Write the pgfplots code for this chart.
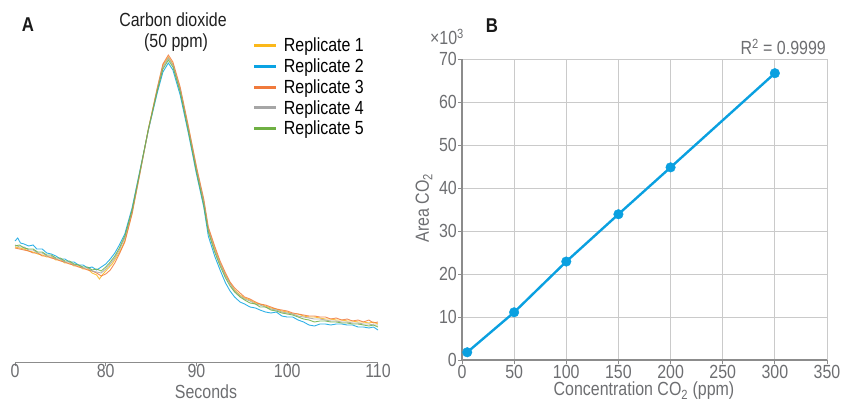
\documentclass[border=0pt]{standalone}
\usepackage{pgfplots}
\pgfplotsset{compat=1.18}
\usepackage{fontspec}
\setmainfont{Liberation Sans}[FakeStretch=0.84]

\definecolor{rone}{HTML}{FBB81A}
\definecolor{rtwo}{HTML}{0AA3E3}
\definecolor{rthree}{HTML}{F07A3C}
\definecolor{rfour}{HTML}{A6A6A6}
\definecolor{rfive}{HTML}{6FB043}
\definecolor{ticktext}{HTML}{6D6E71}
\definecolor{axisgray}{HTML}{8C8C8C}
\definecolor{gridgray}{HTML}{CACACA}
\definecolor{calblue}{HTML}{0AA0E0}

\newcommand{\chfont}{\fontsize{19}{21}\selectfont}

\begin{document}
\begin{tikzpicture}
% A: chromatogram
\begin{axis}[
    at={(15pt,-362pt)}, anchor=south west,
    scale only axis, width=363pt, height=310pt,
    xmin=70, xmax=110, ymin=0, ymax=310,
    axis x line=bottom, axis y line=none,
    axis line style={axisgray, line width=1pt, -},
    xtick={70,80,90,100,110},
    xticklabels={0,80,90,100,110},
    tick align=outside, major tick length=4pt,
    tick style={axisgray, line width=1pt},
    ticklabel style={font=\chfont, text=ticktext, inner sep=0pt},
    xticklabel style={yshift=1.5pt},
    clip=false,
    legend style={at={(0.655,1.05)}, anchor=north west, draw=none, fill=none,
        font=\chfont, row sep=3.6pt, inner sep=0pt,
        nodes={inner sep=1pt}},
    legend cell align=left,
    legend image code/.code={\draw[#1, line width=3pt, opacity=1] (0pt,0pt) -- (22pt,0pt);},
    every axis plot/.append style={line width=0.9pt, opacity=0.85},
]
\addplot[rone] coordinates {
(70.0,115) (70.5,114) (71.0,113) (71.5,111) (72.0,110) (72.5,108) (73.0,107) (73.5,105) (74.0,105) (74.5,102)
(75.0,102) (75.5,99) (76.0,99) (76.5,96) (77.0,96) (77.5,93) (78.0,93) (78.5,89) (79.0,87) (79.3,83)
(79.7,88) (80.2,93) (80.7,98) (81.2,105) (81.7,113) (82.1,121) (82.9,149) (83.8,191) (84.7,233) (85.7,274)
(86.3,297) (86.9,305) (87.4,298) (88.2,273) (89.1,235) (90.0,194) (90.8,161) (91.3,133) (92.0,114) (92.6,99)
(93.2,87) (93.7,79) (94.2,72) (94.8,67) (95.3,64) (95.9,62) (96.5,59) (97.0,58) (97.6,56) (98.2,54)
(98.8,53) (99.4,51) (100.0,50) (100.6,48) (101.2,48) (101.8,46) (102.4,45) (103.0,45) (103.6,44) (104.2,43)
(104.8,43) (105.4,42) (106.0,42) (106.6,41) (107.2,41) (107.8,40) (108.4,40) (109.0,39) (109.5,40) (110.0,38)};
\addplot[rtwo] coordinates {
(70.0,121) (70.3,124) (70.6,119) (71.0,118) (71.5,116) (72.0,117) (72.4,113) (73.0,113) (73.5,109) (74.0,108)
(74.5,106) (75.0,103) (75.5,103) (76.0,100) (76.5,100) (77.0,97) (77.5,97) (78.0,94) (78.5,95) (79.0,92)
(79.5,95) (80.0,98) (80.5,103) (81.0,109) (81.5,117) (82.1,128) (82.9,154) (83.8,193) (84.7,232) (85.7,270)
(86.3,290) (86.9,299) (87.4,292) (88.2,267) (89.1,229) (90.0,188) (90.8,155) (91.3,126) (92.0,106) (92.6,92)
(93.2,79) (93.7,71) (94.2,65) (94.8,60) (95.3,58) (95.9,55) (96.5,54) (97.0,52) (97.6,50) (98.2,49)
(98.8,50) (99.4,46) (100.0,45) (100.6,45) (101.2,42) (101.8,40) (102.4,37) (103.0,36) (103.6,38) (104.2,38)
(104.8,37) (105.4,38) (106.0,38) (106.6,37) (107.2,37) (107.8,35) (108.4,35) (109.0,34) (109.5,35) (110.0,32)};
\addplot[rthree] coordinates {
(70.0,114) (70.5,113) (71.0,112) (71.5,111) (72.0,109) (72.5,109) (73.0,106) (73.5,106) (74.0,104) (74.5,103)
(75.0,101) (75.5,100) (76.0,98) (76.5,97) (77.0,95) (77.5,94) (78.0,92) (78.5,91) (79.0,89) (79.5,86)
(80.0,88) (80.5,92) (81.0,99) (81.5,108) (82.1,120) (82.9,148) (83.8,190) (84.7,233) (85.7,275) (86.3,298)
(86.9,307) (87.4,300) (88.2,275) (89.1,236) (90.0,195) (90.8,163) (91.3,135) (92.0,116) (92.6,101) (93.2,89)
(93.7,80) (94.2,74) (94.8,69) (95.3,65) (95.9,63) (96.5,60) (97.0,58) (97.6,57) (98.2,55) (98.8,53)
(99.4,52) (100.0,51) (100.6,49) (101.2,48) (101.8,47) (102.4,46) (103.0,46) (103.6,45) (104.2,45) (104.8,43)
(105.4,44) (106.0,42) (106.6,43) (107.2,41) (107.8,42) (108.4,40) (109.0,42) (109.5,39) (110.0,40)};
\addplot[rfour] coordinates {
(70.0,117) (70.5,115) (71.0,115) (71.5,112) (72.0,112) (72.5,109) (73.0,109) (73.5,106) (74.0,106) (74.5,103)
(75.0,103) (75.5,100) (76.0,100) (76.5,97) (77.0,97) (77.5,94) (78.0,94) (78.5,91) (79.0,90) (79.5,89)
(80.0,93) (80.5,98) (81.0,104) (81.5,112) (82.1,124) (82.9,151) (83.8,191) (84.7,232) (85.7,273) (86.3,295)
(86.9,304) (87.4,297) (88.2,272) (89.1,233) (90.0,192) (90.8,160) (91.3,132) (92.0,112) (92.6,98) (93.2,86)
(93.7,78) (94.2,71) (94.8,66) (95.3,63) (95.9,61) (96.5,58) (97.0,57) (97.6,55) (98.2,53) (98.8,52)
(99.4,50) (100.0,49) (100.6,48) (101.2,46) (101.8,45) (102.4,44) (103.0,43) (103.6,43) (104.2,42) (104.8,41)
(105.4,41) (106.0,40) (106.6,40) (107.2,39) (107.8,39) (108.4,38) (109.0,38) (109.5,37) (110.0,37)};
\addplot[rfive] coordinates {
(70.0,116) (70.5,117) (71.0,114) (71.5,113) (72.0,113) (72.5,110) (73.0,110) (73.5,107) (74.0,107) (74.5,104)
(75.0,104) (75.5,101) (76.0,101) (76.5,98) (77.0,97) (77.5,95) (78.0,95) (78.5,92) (79.0,93) (79.5,91)
(80.0,95) (80.5,100) (81.0,106) (81.5,114) (82.1,126) (82.9,152) (83.8,192) (84.7,233) (85.7,272) (86.3,293)
(86.9,302) (87.4,295) (88.2,270) (89.1,231) (90.0,190) (90.8,157) (91.3,130) (92.0,110) (92.6,96) (93.2,84)
(93.7,76) (94.2,70) (94.8,65) (95.3,62) (95.9,59) (96.5,58) (97.0,55) (97.6,55) (98.2,52) (98.8,51)
(99.4,49) (100.0,48) (100.6,47) (101.2,45) (101.8,43) (102.4,42) (103.0,40) (103.6,41) (104.2,41) (104.8,40)
(105.4,40) (106.0,39) (106.6,39) (107.2,38) (107.8,38) (108.4,37) (109.0,36) (109.5,37) (110.0,35)};
\legend{\hspace{5pt}Replicate 1, \hspace{5pt}Replicate 2, \hspace{5pt}Replicate 3, \hspace{5pt}Replicate 4, \hspace{5pt}Replicate 5}
\end{axis}

% B: calibration
\begin{axis}[
    at={(462pt,-360pt)}, anchor=south west,
    scale only axis, width=365pt, height=301pt,
    xmin=0, xmax=350, ymin=0, ymax=70,
    xtick={0,50,...,350}, ytick={0,10,...,70},
    axis x line=bottom, axis y line=left,
    axis line style={axisgray, line width=1.1pt, -},
    grid=major, major grid style={gridgray, line width=0.9pt},
    tick align=outside, major tick length=4pt,
    tick style={axisgray, line width=1pt},
    ticklabel style={font=\chfont, text=ticktext, inner sep=0pt},
    xticklabel style={yshift=-1pt},
    yticklabel style={xshift=-1pt},
    /pgf/number format/assume math mode=true,
    clip=false,
]
\addplot[calblue, line width=2.4pt, mark=*, mark size=4.8pt, mark options={solid, fill=calblue, draw=calblue, line width=0.4pt}]
coordinates {(5,1.8) (50,11.1) (100,22.9) (150,33.9) (200,44.8) (300,66.7)};
\end{axis}

% texts
\node[font=\fontsize{20}{21}\selectfont\bfseries, text=black!90] at (28pt,-25pt) {A};
\node[font=\fontsize{20}{21}\selectfont\bfseries, text=black!90] at (492pt,-26pt) {B};
\node[font=\chfont, text=black!88] at (173pt,-20pt) {Carbon dioxide};
\node[font=\chfont, text=black!88] at (176pt,-43pt) {(50 ppm)};
\node[font=\chfont, text=ticktext, inner sep=0pt] at (206pt,-391.5pt) {Seconds};
\node[font=\chfont, text=ticktext] at (447pt,-37pt) {\texttimes10\textsuperscript{3}};
\node[font=\chfont, text=ticktext, anchor=east, inner sep=0pt] at (826pt,-47pt) {R\textsuperscript{2} = 0.9999};
\node[font=\chfont, text=ticktext, rotate=90] at (424pt,-208pt) {Area CO\textsubscript{2}};
\node[font=\chfont, text=ticktext, inner sep=0pt] at (644pt,-391pt) {Concentration CO\textsubscript{2} (ppm)};

\pgfresetboundingbox
\path[use as bounding box] (0pt,0pt) rectangle (844pt,-402pt);
\end{tikzpicture}
\end{document}
